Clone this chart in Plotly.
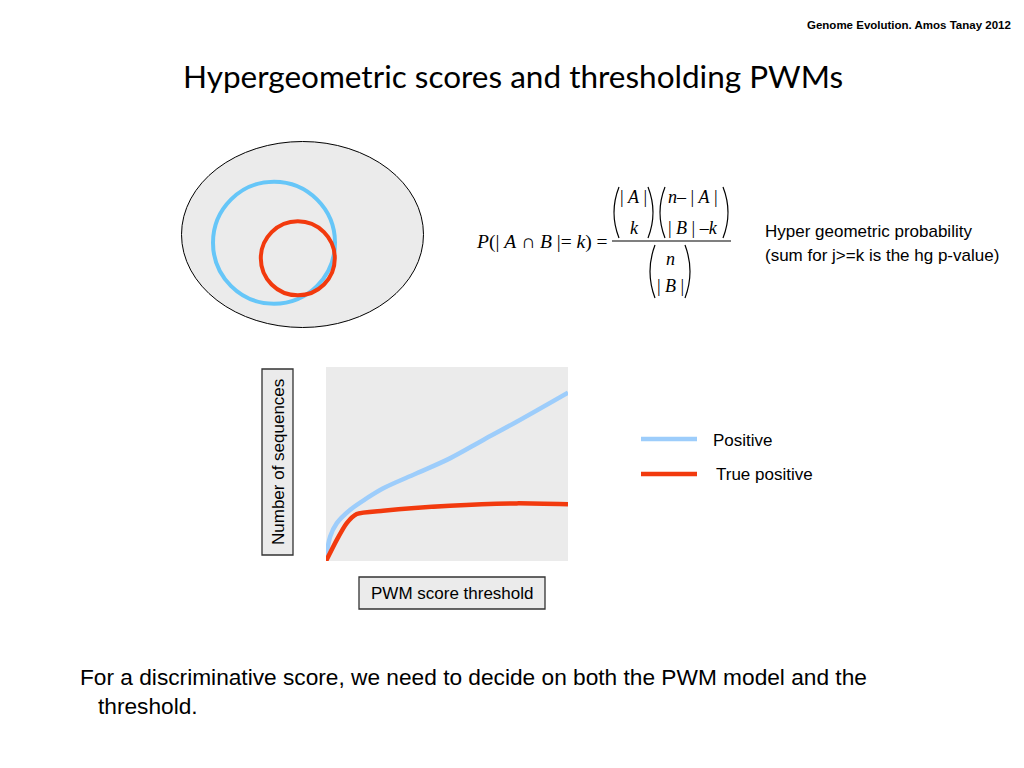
import plotly.graph_objects as go

W, H = 1024, 768

# ---- data ----
threshold_positive = [0, 1.7, 4.4, 9.9, 16.8, 23.7, 37.5, 51.2, 65.0, 78.8, 100]
positive = [0.5, 12.5, 19.4, 26.3, 32.3, 37.5, 45.2, 52.9, 62.4, 71.8, 86.8]
threshold_true = [0, 4.4, 8.5, 12.7, 23.6, 51.2, 78.8, 100]
true_positive = [0, 10.8, 19.4, 24.2, 25.9, 28.5, 29.7, 29.2]
series_names = ["Positive", "True positive"]

title_text = "Hypergeometric scores and thresholding PWMs"
header_text = "Genome Evolution. Amos Tanay 2012"
x_label = "PWM score threshold"
y_label = "Number of sequences"
desc_lines = ["Hyper geometric probability", "(sum for j>=k is the hg p-value)"]
bottom_lines = ["For a discriminative score, we need to decide on both the PWM model and the",
                "threshold."]

BLUE_LINE = "#9dcdfb"
BLUE_CIRCLE = "#66c6f8"
RED = "#f23a0e"
GRAY = "#ebebeb"


def X(px):
    return px / W


def Y(py):
    return 1 - py / H


fig = go.Figure()
fig.add_trace(go.Scatter(x=threshold_positive, y=positive, mode="lines",
                         line=dict(color=BLUE_LINE, width=4.5, shape="spline", smoothing=1.0),
                         name=series_names[0], showlegend=False, hoverinfo="skip"))
fig.add_trace(go.Scatter(x=threshold_true, y=true_positive, mode="lines",
                         line=dict(color=RED, width=4.5, shape="spline", smoothing=0.6),
                         name=series_names[1], showlegend=False, hoverinfo="skip"))

shapes = []
annotations = []


def rect(x0, y0, x1, y1, fill, line, lw=1.2):
    shapes.append(dict(type="rect", xref="paper", yref="paper", x0=X(x0), x1=X(x1),
                       y0=Y(y1), y1=Y(y0), fillcolor=fill, line=dict(color=line, width=lw),
                       layer="above"))


def circle(cx, cy, rx, ry, fill, line, lw):
    shapes.append(dict(type="circle", xref="paper", yref="paper",
                       x0=X(cx - rx), x1=X(cx + rx), y0=Y(cy + ry), y1=Y(cy - ry),
                       fillcolor=fill, line=dict(color=line, width=lw), layer="above"))


def hline(x0, x1, y, color, lw):
    shapes.append(dict(type="line", xref="paper", yref="paper", x0=X(x0), x1=X(x1),
                       y0=Y(y), y1=Y(y), line=dict(color=color, width=lw), layer="above"))


def paren(x_end, x_mid, y0, y1, lw=1.2):
    path = "M {a},{b} Q {c},{d} {e},{f}".format(a=X(x_end), b=Y(y0), c=X(x_mid),
                                               d=Y((y0 + y1) / 2), e=X(x_end), f=Y(y1))
    shapes.append(dict(type="path", xref="paper", yref="paper", path=path,
                       line=dict(color="black", width=lw), layer="above"))


def text(x, y, s, size, xanchor="left", yanchor="middle", family="Liberation Sans, Arial",
         color="black", angle=0, bold=False):
    if bold:
        s = "<b>" + s + "</b>"
    annotations.append(dict(x=X(x), y=Y(y), xref="paper", yref="paper", text=s,
                            showarrow=False, xanchor=xanchor, yanchor=yanchor,
                            textangle=angle, font=dict(size=size, family=family, color=color)))


# Venn diagram
circle(302.5, 234.5, 121, 93, GRAY, "black", 1)
circle(274, 242.7, 61, 61, "rgba(0,0,0,0)", BLUE_CIRCLE, 4)
circle(297.8, 258.3, 37, 37, "rgba(0,0,0,0)", RED, 4)

# Axis label boxes
rect(262, 369, 293, 555, GRAY, "#333333", 1.3)
text(278, 462, y_label, 17, xanchor="center", angle=-90)
rect(359, 577, 545, 609, GRAY, "#333333", 1.3)
text(452, 593, x_label, 17, xanchor="center")

# Legend
hline(641, 697, 439, BLUE_LINE, 4.5)
hline(641, 697, 474, RED, 4.5)
text(711, 440, series_names[0], 17)
text(714, 474, series_names[1], 17)

# Header and title
text(1013, 25, header_text, 11.5, xanchor="right", bold=True)
text(512.5, 76, title_text, 31.5, xanchor="center", family="Lato, Open Sans")

# Formula
serif = "Liberation Serif, Times New Roman"
text(474, 242, "<i>P</i>(| <i>A</i> ∩ <i>B</i> |= <i>k</i>) =", 19.5, family=serif)
hline(612, 731, 241, "black", 1.1)
paren(619, 609, 187, 238)
paren(648, 658, 187, 238)
paren(665, 655, 187, 238)
paren(723, 733, 187, 238)
text(633, 197, "| <i>A</i> |", 18, xanchor="center", family=serif)
text(634, 228, "<i>k</i>", 18, xanchor="center", family=serif)
text(693, 197, "<i>n</i>– | <i>A</i> |", 18, xanchor="center", family=serif)
text(693, 228, "| <i>B</i> | –<i>k</i>", 18, xanchor="center", family=serif)
paren(655, 645, 245, 298)
paren(685, 695, 245, 298)
text(670, 259, "<i>n</i>", 18, xanchor="center", family=serif)
text(670, 286, "| <i>B</i> |", 18, xanchor="center", family=serif)

# Description
text(763, 231, desc_lines[0], 17)
text(763, 255, desc_lines[1], 17)

# Bottom text
text(78, 677, bottom_lines[0], 22.7)
text(96, 706, bottom_lines[1], 22.7)

fig.update_layout(
    width=W, height=H, margin=dict(l=0, r=0, t=0, b=0),
    paper_bgcolor="white", plot_bgcolor=GRAY,
    showlegend=False,
    xaxis=dict(domain=[X(326), X(568)], range=[0, 100], showgrid=False, zeroline=False,
               showticklabels=False, ticks="", showline=False, fixedrange=True),
    yaxis=dict(domain=[Y(561), Y(367)], range=[0, 100], showgrid=False, zeroline=False,
               showticklabels=False, ticks="", showline=False, fixedrange=True),
    shapes=shapes, annotations=annotations,
)

fig.write_html("out.html", config={"displayModeBar": False},
               post_script="document.body.style.margin='0';document.body.style.overflow='hidden';")
